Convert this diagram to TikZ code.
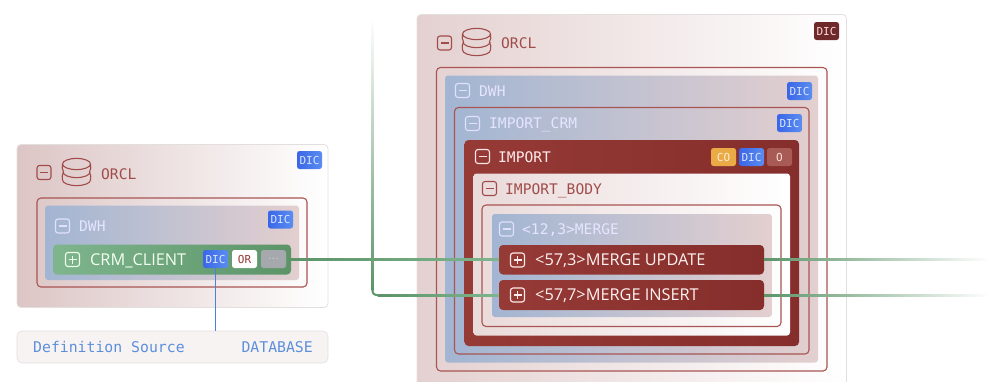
\documentclass[tikz,border=0pt]{standalone}
\usepackage{fontspec}
\setmainfont{Open Sans}
\newfontfamily\monof{DejaVu Sans Mono}
\usetikzlibrary{calc}
\definecolor{panelL}{HTML}{DCC5C5}
\definecolor{panelR}{HTML}{E4D0D0}
\definecolor{blueL}{HTML}{A2B5D2}
\definecolor{roseR}{HTML}{E3CFCF}
\definecolor{redL}{HTML}{963A36}
\definecolor{redR}{HTML}{852E2B}
\definecolor{greenL}{HTML}{7FB58D}
\definecolor{greenR}{HTML}{5C9468}
\definecolor{outline}{HTML}{A85553}
\definecolor{iconred}{HTML}{A04C4A}
\definecolor{badgeL}{HTML}{3A66E8}
\definecolor{badgeR}{HTML}{5B8DF0}
\definecolor{sourcewire}{HTML}{4A80E0}
\definecolor{textblue}{HTML}{5C8FDC}
\definecolor{bordergray}{HTML}{E4DFDF}
\definecolor{paleblue}{HTML}{DCE6FF}
\definecolor{rtop}{HTML}{6E2A2A}
\definecolor{orangeb}{HTML}{EAAA45}
\definecolor{roseb}{HTML}{A85A55}
\definecolor{bodyL}{HTML}{EADADA}
\definecolor{defsfill}{HTML}{F8F3F3}
\definecolor{dotsgray}{HTML}{A5A8AD}
\tikzset{
  boxbase/.style={anchor=north west,inner sep=0pt,outer sep=0pt},
  panelbox/.style={boxbase,rounded corners=4pt,left color=#1,right color=white,draw=bordergray,line width=.8pt},
  ringbox/.style={boxbase,rounded corners=4pt,draw=outline,line width=1.1pt},
  bluebox/.style={boxbase,rounded corners=3pt,left color=blueL,right color=roseR},
  redbox/.style={boxbase,rounded corners=4pt,left color=redL,right color=redR},
  greenbox/.style={boxbase,rounded corners=4pt,left color=greenL,right color=greenR},
  badge/.style={boxbase,rounded corners=2.5pt,font=\monof\fontsize{11}{12}\selectfont,text=#1},
  bluebadge/.style={badge=paleblue,left color=badgeL,right color=badgeR},
  title/.style={anchor=base west,yshift=-5.3pt,inner sep=0pt,font=\monof\fontsize{14.6}{16}\selectfont,text=#1},
  sanslabel/.style={anchor=base west,yshift=-5.7pt,inner sep=0pt,font=\fontsize{16.3}{18}\selectfont,text=#1},
  srctext/.style={inner sep=0pt,yshift=-5.3pt,font=\monof\fontsize{14.8}{17}\selectfont,text=textblue},
  iconbox/.style={boxbase,rounded corners=2.5pt,draw=#1,line width=1.1pt}
}
\newcommand{\bx}[6]{% name, style, x1,y1,x2,y2
  \pgfmathsetmacro{\bw}{#5-#3}\pgfmathsetmacro{\bh}{#6-#4}
  \node[#2,minimum width=\bw pt,minimum height=\bh pt] (#1) at (#3,#4) {};}
\newcommand{\bdg}[7]{% name, style, x1,y1,x2,y2,text
  \pgfmathsetmacro{\bw}{#5-#3}\pgfmathsetmacro{\bh}{#6-#4}
  \node[#2,minimum width=\bw pt,minimum height=\bh pt] (#1) at (#3,#4) {#7};}
\newcommand{\minusic}[4]{% name,x,y,color
  \bx{#1}{iconbox=#4}{#2}{#3}{#2+14}{#3+14}
  \draw[#4,line width=1.1pt] ($(#1.center)+(-4,0)$) -- ($(#1.center)+(4,0)$);}
\newcommand{\plusic}[4]{%
  \minusic{#1}{#2}{#3}{#4}
  \draw[#4,line width=1.1pt] ($(#1.center)+(0,-4)$) -- ($(#1.center)+(0,4)$);}
\newcommand{\dbic}[3]{% name, cx, top
  \coordinate (#1) at (#2,#3+6);
  \begin{scope}[shift={(#1)},iconred,line width=1.1pt]
    \draw (0,0) ellipse [x radius=14,y radius=5.6];
    \draw (-14,0) .. controls (-14.5,3) and (-14.5,5) .. (-13,8) .. controls (-14.5,11) and (-14.5,13) .. (-14,16);
    \draw (14,0) .. controls (14.5,3) and (14.5,5) .. (13,8) .. controls (14.5,11) and (14.5,13) .. (14,16);
    \draw (-13.5,8) arc [start angle=180,end angle=0,x radius=13.5,y radius=5.6];
    \draw (-14,16) arc [start angle=180,end angle=0,x radius=14,y radius=5.6];
  \end{scope}}
\newcommand{\hwire}[4]{% from, to, colA, colB
  \path[left color=#3,right color=#4] ($(#1)+(0,-1)$) rectangle ($(#2)+(0,1)$);}
\begin{document}
\begin{tikzpicture}[x=1pt,y=-1pt]
\useasboundingbox (0,0) rectangle (992,381);
\clip (0,0) rectangle (992,381);
\fill[white] (0,0) rectangle (992,381);

% left panel
\bx{lpanel}{panelbox=panelL}{17}{144.5}{328}{307.5}
\minusic{lmin}{37}{165.5}{iconred}
\dbic{ldb}{76.5}{158}
\node[title=iconred] (lorcl) at (101,174) {ORCL};
\bdg{lpdic}{bluebadge}{297}{151}{322}{169}{DIC}
\bx{lring}{ringbox}{37}{198}{307}{287}
\bx{ldwh}{bluebox}{45}{205.5}{299}{280}
\minusic{ldmin}{55.5}{219}{white!88!blue}
\node[title=white!90!blue] (ldwht) at (79,226) {DWH};
\bdg{lddic}{bluebadge}{268}{210.5}{293}{228.5}{DIC}
\bx{crm}{greenbox}{53}{244.5}{291}{274.5}
\plusic{crmic}{65.5}{252.5}{white!92!green}
\node[sanslabel=white!95!green] (crmt) at (90,259.3) {CRM\_CLIENT};
\bdg{crmdic}{bluebadge}{203}{250}{228}{268}{DIC}
\bdg{crmor}{badge=redL,fill=white}{232}{250}{257}{268}{OR}
\bdg{crmdots}{badge=white!80!gray,fill=dotsgray}{261}{250}{286}{268}{\raisebox{-.5pt}{$\cdot\!\cdot\!\cdot$}}

% definition source
\bx{defs}{boxbase,rounded corners=5pt,fill=defsfill,draw=bordergray,line width=.6pt}{17}{331}{328}{363}
\node[srctext,anchor=base west] (deft) at (33,347.5) {Definition Source};
\node[srctext,anchor=base east] (defd) at (313,347.5) {DATABASE};

% right panel
\bx{rpanel}{panelbox=panelR}{417}{14.5}{846.5}{420}
\minusic{rmin}{437.5}{36}{iconred}
\dbic{rdb}{476.5}{28}
\node[title=iconred] (rorcl) at (501,43.5) {ORCL};
\bdg{rpdic}{badge=white!85!red,fill=rtop}{814}{22}{839}{40}{DIC}
\bx{rring}{ringbox}{436.5}{67.5}{827}{371}
\bx{rdwh}{bluebox}{445}{75.5}{818}{362.5}
\minusic{rdmin}{455.5}{83.5}{white!88!blue}
\node[title=white!90!blue] (rdwht) at (479,91) {DWH};
\bdg{rddic}{bluebadge}{787}{82}{812}{100}{DIC}
\bx{crmring}{ringbox}{454.5}{107.5}{809}{354}
\minusic{cmin}{465.5}{116.5}{white!88!blue}
\node[title=white!90!blue] (crmname) at (489,123.5) {IMPORT\_CRM};
\bdg{cdic}{bluebadge}{777}{114}{802}{132}{DIC}
\bx{imp}{redbox}{464.5}{140}{799}{346}
\minusic{imin}{475.5}{149.5}{white!90!red}
\node[title=white!92!red] (impt) at (498,157) {IMPORT};
\bdg{ico}{badge=white!85!orange,fill=orangeb}{711}{148}{736}{166}{CO}
\bdg{idic}{bluebadge}{739}{148}{764}{166}{DIC}
\bdg{io}{badge=white!85!red,fill=roseb}{767}{148}{792}{166}{O}
\bx{body}{boxbase,rounded corners=3pt,left color=bodyL,right color=white}{473.5}{173.5}{790}{335.5}
\minusic{bmin}{482.5}{181.5}{iconred}
\node[title=iconred] (bodyt) at (505,189) {IMPORT\_BODY};
\bx{bring}{ringbox}{482}{205}{781}{326.5}
\bx{merge}{bluebox}{492}{214}{772}{317}
\minusic{mmin}{499.5}{222}{white!88!blue}
\node[title=white!90!blue] (merget) at (522,229) {<12,3>MERGE};
\bx{upd}{redbox}{499}{245}{764}{274.5}
\plusic{uic}{510.5}{253}{white!92!red}
\node[sanslabel=white!95!red] (updt) at (535,260) {<57,3>MERGE UPDATE};
\bx{ins}{redbox}{499}{280}{764}{310}
\plusic{nic}{510.5}{288}{white!92!red}
\node[sanslabel=white!95!red] (inst) at (535,295) {<57,7>MERGE INSERT};

% connectors
\coordinate (vtop) at (372.5,18);
\coordinate (vend) at (372.5,290);
\coordinate (hstart) at (377.5,295);
\coordinate (rtop1) at (990,259.75);
\coordinate (rtop2) at (990,295);
\path[top color=white,bottom color=greenR] ($(vtop)+(-1,0)$) rectangle ($(vend)+(1,0.2)$);
\draw[greenR,line width=2pt] (vend) .. controls (372.5,293.5) and (374,295) .. (hstart);
\hwire{hstart}{ins.west}{greenR}{greenL}
\coordinate (crmr) at (crm.east |- upd.west);
\hwire{crmr}{upd.west}{greenR}{greenL}
\hwire{upd.east}{rtop1}{greenR}{white}
\hwire{ins.east}{rtop2}{greenR}{white}
\draw[draw=sourcewire,line width=1.7pt] (crmdic.south) -- (crmdic.south |- defs.north);
\end{tikzpicture}
\end{document}
